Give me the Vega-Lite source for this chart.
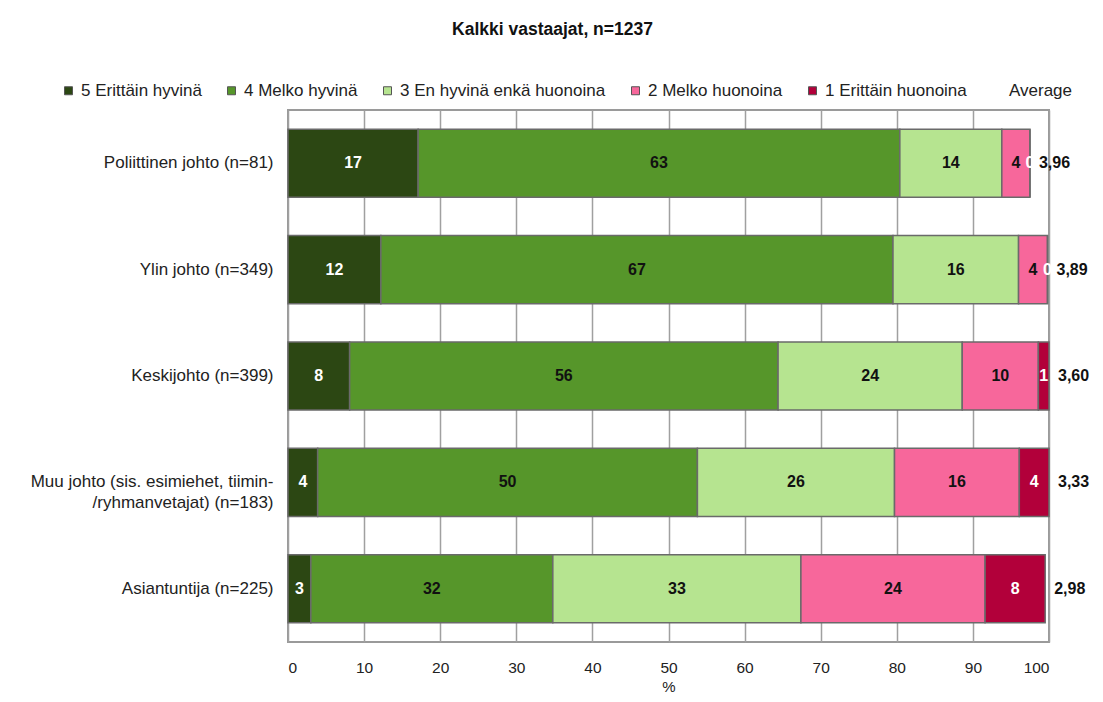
{
  "$schema": "https://vega.github.io/schema/vega-lite/v6.json",
  "width": 761,
  "height": 532,
  "autosize": "none",
  "padding": {"left": 288, "top": 110, "right": 54, "bottom": 60},
  "background": "white",
  "title": {"text": "Kalkki vastaajat, n=1237", "font": "Liberation Sans", "fontSize": 17.5, "fontWeight": "bold", "color": "#111111", "anchor": "middle", "dx": -116, "offset": 44},
  "config": {
    "font": "Liberation Sans",
    "view": {"stroke": "#9a9a9a", "strokeWidth": 2}
  },
  "data": {"values": [
    {"group": "Poliittinen johto (n=81)", "cat": "5 Erittäin hyvinä", "pct": 17.1, "lbl": "17", "avg": "3,96"},
    {"group": "Poliittinen johto (n=81)", "cat": "4 Melko hyvinä", "pct": 63.3, "lbl": "63", "avg": "3,96"},
    {"group": "Poliittinen johto (n=81)", "cat": "3 En hyvinä enkä huonoina", "pct": 13.4, "lbl": "14", "avg": "3,96"},
    {"group": "Poliittinen johto (n=81)", "cat": "2 Melko huonoina", "pct": 3.7, "lbl": "4", "avg": "3,96"},
    {"group": "Poliittinen johto (n=81)", "cat": "1 Erittäin huonoina", "pct": 0, "lbl": "0", "avg": "3,96"},
    {"group": "Ylin johto (n=349)", "cat": "5 Erittäin hyvinä", "pct": 12.2, "lbl": "12", "avg": "3,89"},
    {"group": "Ylin johto (n=349)", "cat": "4 Melko hyvinä", "pct": 67.3, "lbl": "67", "avg": "3,89"},
    {"group": "Ylin johto (n=349)", "cat": "3 En hyvinä enkä huonoina", "pct": 16.5, "lbl": "16", "avg": "3,89"},
    {"group": "Ylin johto (n=349)", "cat": "2 Melko huonoina", "pct": 3.8, "lbl": "4", "avg": "3,89"},
    {"group": "Ylin johto (n=349)", "cat": "1 Erittäin huonoina", "pct": 0, "lbl": "0", "avg": "3,89"},
    {"group": "Keskijohto (n=399)", "cat": "5 Erittäin hyvinä", "pct": 8.1, "lbl": "8", "avg": "3,60"},
    {"group": "Keskijohto (n=399)", "cat": "4 Melko hyvinä", "pct": 56.3, "lbl": "56", "avg": "3,60"},
    {"group": "Keskijohto (n=399)", "cat": "3 En hyvinä enkä huonoina", "pct": 24.2, "lbl": "24", "avg": "3,60"},
    {"group": "Keskijohto (n=399)", "cat": "2 Melko huonoina", "pct": 10.0, "lbl": "10", "avg": "3,60"},
    {"group": "Keskijohto (n=399)", "cat": "1 Erittäin huonoina", "pct": 1.4, "lbl": "1", "avg": "3,60"},
    {"group": "Muu johto (sis. esimiehet, tiimin-/ryhmanvetajat) (n=183)", "cat": "5 Erittäin hyvinä", "pct": 3.9, "lbl": "4", "avg": "3,33"},
    {"group": "Muu johto (sis. esimiehet, tiimin-/ryhmanvetajat) (n=183)", "cat": "4 Melko hyvinä", "pct": 49.9, "lbl": "50", "avg": "3,33"},
    {"group": "Muu johto (sis. esimiehet, tiimin-/ryhmanvetajat) (n=183)", "cat": "3 En hyvinä enkä huonoina", "pct": 25.9, "lbl": "26", "avg": "3,33"},
    {"group": "Muu johto (sis. esimiehet, tiimin-/ryhmanvetajat) (n=183)", "cat": "2 Melko huonoina", "pct": 16.4, "lbl": "16", "avg": "3,33"},
    {"group": "Muu johto (sis. esimiehet, tiimin-/ryhmanvetajat) (n=183)", "cat": "1 Erittäin huonoina", "pct": 3.9, "lbl": "4", "avg": "3,33"},
    {"group": "Asiantuntija (n=225)", "cat": "5 Erittäin hyvinä", "pct": 3.0, "lbl": "3", "avg": "2,98"},
    {"group": "Asiantuntija (n=225)", "cat": "4 Melko hyvinä", "pct": 31.8, "lbl": "32", "avg": "2,98"},
    {"group": "Asiantuntija (n=225)", "cat": "3 En hyvinä enkä huonoina", "pct": 32.6, "lbl": "33", "avg": "2,98"},
    {"group": "Asiantuntija (n=225)", "cat": "2 Melko huonoina", "pct": 24.2, "lbl": "24", "avg": "2,98"},
    {"group": "Asiantuntija (n=225)", "cat": "1 Erittäin huonoina", "pct": 7.9, "lbl": "8", "avg": "2,98"}
  ]},
  "transform": [
    {"stack": "pct", "groupby": ["group"], "sort": [{"field": "cat", "order": "descending"}], "as": ["x0", "x1"]},
    {"calculate": "(datum.x0 + datum.x1) / 2", "as": "mid"}
  ],
  "encoding": {
    "y": {
      "field": "group", "type": "nominal", "sort": null,
      "scale": {"paddingInner": 0.36, "paddingOuter": 0.18},
      "axis": {
        "title": null, "domain": false, "ticks": false,
        "labelFontSize": 17, "labelColor": "#222222", "labelPadding": 15, "labelLimit": 0,
        "labelLineHeight": 21,
        "labelExpr": "indexof(datum.label, 'tiimin-/') > 0 ? ['Muu johto (sis. esimiehet, tiimin-', '/ryhmanvetajat) (n=183)'] : datum.label"
      }
    }
  },
  "layer": [
    {
      "mark": {"type": "bar", "stroke": "#6a6a6a", "strokeWidth": 1.5},
      "encoding": {
        "x": {
          "field": "x0", "type": "quantitative",
          "scale": {"domain": [0, 100], "nice": false},
          "axis": {
            "values": [0, 10, 20, 30, 40, 50, 60, 70, 80, 90, 100],
            "grid": true, "gridColor": "#a0a0a0", "gridWidth": 1.5,
            "ticks": false, "domain": false,
            "labelFontSize": 15.5, "labelColor": "#222222", "labelPadding": 18,
            "title": "%", "titleFontSize": 15, "titleFontWeight": "normal", "titleColor": "#222222", "titlePadding": 4
          }
        },
        "x2": {"field": "x1"},
        "color": {
          "field": "cat", "type": "nominal",
          "scale": {
            "domain": ["5 Erittäin hyvinä", "4 Melko hyvinä", "3 En hyvinä enkä huonoina", "2 Melko huonoina", "1 Erittäin huonoina", "Average"],
            "range": ["#2c4713", "#56962a", "#b6e490", "#f7679b", "#b2003a", "#ffffff"]
          },
          "legend": {
            "orient": "none", "legendX": -228, "legendY": -28,
            "direction": "horizontal", "columns": 6, "title": null,
            "symbolType": "square", "symbolSize": 64, "symbolStrokeColor": "#555555", "symbolStrokeWidth": 1,
            "labelFontSize": 17, "labelColor": "#222222", "labelOffset": 4, "labelLimit": 0,
            "columnPadding": 21,
            "encode": {"symbols": {"update": {"opacity": {"signal": "datum.value === 'Average' ? 0 : 1"}}}}
          }
        }
      }
    },
    {
      "mark": {"type": "text", "fontSize": 16, "fontWeight": "bold", "baseline": "middle", "align": "center"},
      "encoding": {
        "x": {"field": "mid", "type": "quantitative"},
        "text": {"field": "lbl"},
        "color": {"condition": {"test": "datum.cat[0] == '5' || datum.cat[0] == '1'", "value": "#ffffff"}, "value": "#111111"}
      }
    },
    {
      "transform": [{"aggregate": [{"op": "max", "field": "x1", "as": "end"}], "groupby": ["group", "avg"]}],
      "mark": {"type": "text", "fontSize": 16, "fontWeight": "bold", "baseline": "middle", "align": "left", "dx": 9, "color": "#111111"},
      "encoding": {
        "x": {"field": "end", "type": "quantitative"},
        "text": {"field": "avg"}
      }
    }
  ]
}
